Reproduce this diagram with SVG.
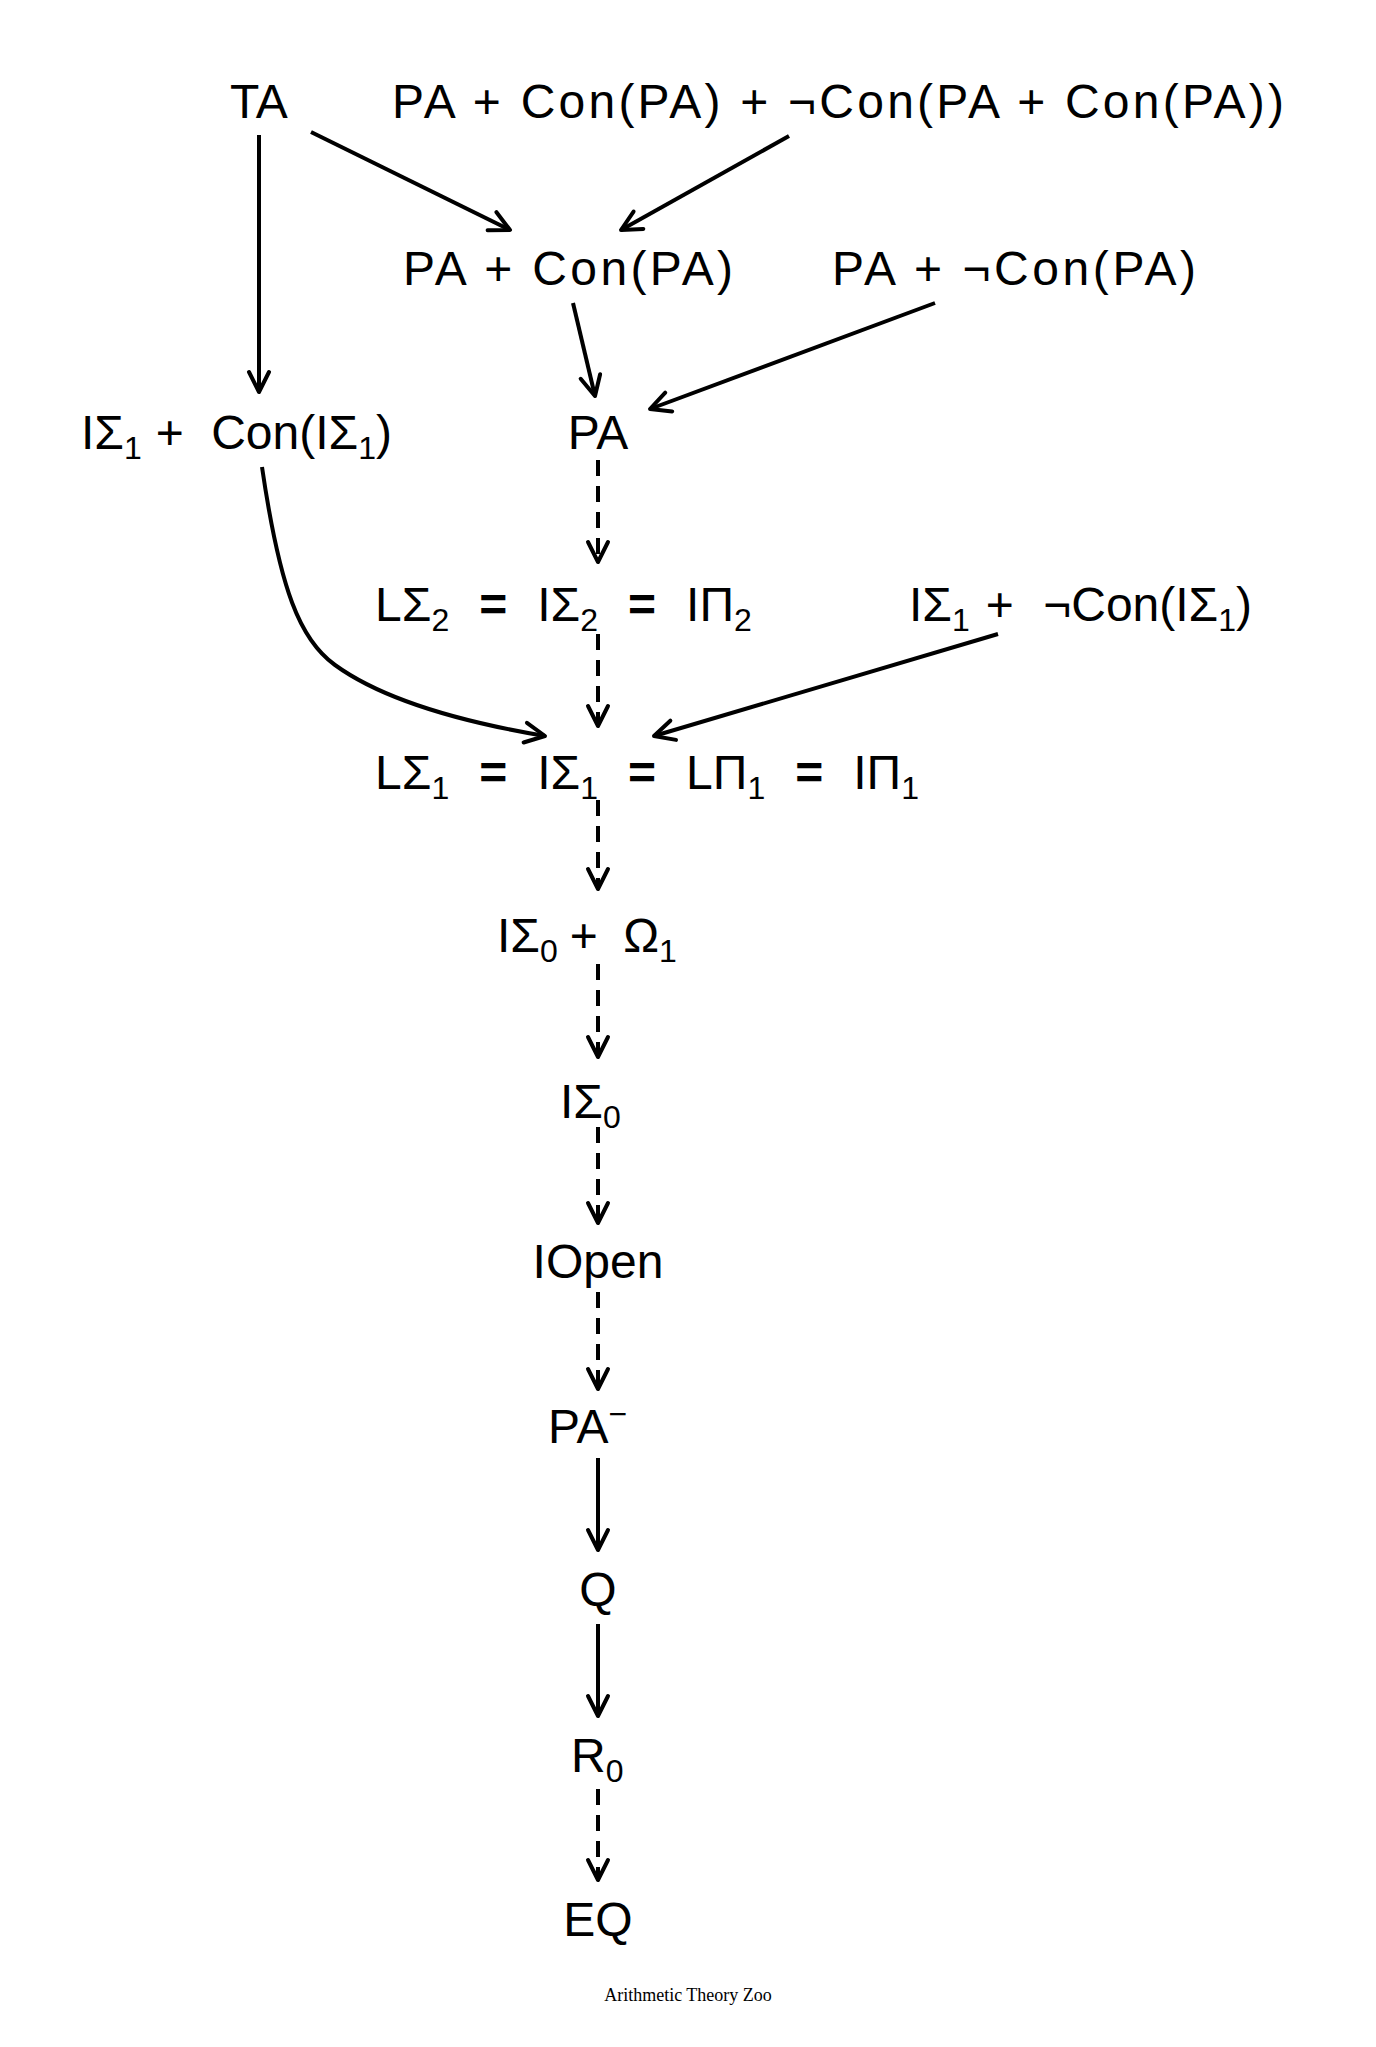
<svg xmlns="http://www.w3.org/2000/svg" width="1376" height="2047" viewBox="0 0 1376 2047">
<style>
text{font-family:"Liberation Sans","DejaVu Sans",sans-serif;font-size:48px;fill:#000}
.s{font-size:32px}
.b{font-weight:bold}
.cap{font-family:"Liberation Serif",serif;font-size:18px}
.e{fill:none;stroke:#000;stroke-width:4;marker-end:url(#a)}
.d{stroke-dasharray:16,10}
</style>
<defs><marker id="a" viewBox="0 0 26 26" refX="23" refY="13" markerWidth="26" markerHeight="26" markerUnits="userSpaceOnUse" orient="auto"><path d="M3,3 L23,13 L3,23" fill="none" stroke="#000" stroke-width="4" stroke-linecap="round" stroke-linejoin="round"/></marker></defs>
<g id="connectors">
<path class="e" d="M259,135 L259,392"/>
<path class="e" d="M311,132 L510,230"/>
<path class="e" d="M789,136 L621,230"/>
<path class="e" d="M573,303 L595,396"/>
<path class="e" d="M935,303 L650,409"/>
<path class="e d" d="M598,460 L598,562"/>
<path class="e" d="M262,467 C280,590 300,640 335,665 C390,705 480,725 545,736"/>
<path class="e d" d="M598,634 L598,726"/>
<path class="e" d="M998,634 L654,736"/>
<path class="e d" d="M598,800 L598,889"/>
<path class="e d" d="M598,964 L598,1057"/>
<path class="e d" d="M598,1127 L598,1223"/>
<path class="e d" d="M598,1292 L598,1389"/>
<path class="e" d="M598,1458 L598,1550"/>
<path class="e" d="M598,1624 L598,1716"/>
<path class="e d" d="M598,1789 L598,1880"/>
</g>
<g id="TA"><text x="259" y="118" text-anchor="middle">TA</text></g>
<g id="PAConNeg"><text x="392" y="118" textLength="892">PA + Con(PA) + ¬Con(PA + Con(PA))</text></g>
<g id="PACon"><text x="403" y="285" textLength="330">PA + Con(PA)</text></g>
<g id="PANegCon"><text x="832" y="285" textLength="364">PA + ¬Con(PA)</text></g>
<g id="ISigma1Con"><text x="81" y="449">IΣ<tspan class="s" dy="10">1</tspan><tspan dy="-10" dx="14">+</tspan><tspan dx="14"> Con(IΣ</tspan><tspan class="s" dy="10">1</tspan><tspan dy="-10">)</tspan></text></g>
<g id="PA"><text x="598" y="449" text-anchor="middle">PA</text></g>
<g id="LS2"><text x="375" y="621">LΣ<tspan class="s" dy="10">2</tspan><tspan class="b" dy="-10" dx="30">=</tspan><tspan dx="30">IΣ</tspan><tspan class="s" dy="10">2</tspan><tspan class="b" dy="-10" dx="30">=</tspan><tspan dx="30">IΠ</tspan><tspan class="s" dy="10">2</tspan></text></g>
<g id="ISigma1NegCon"><text x="909" y="621">IΣ<tspan class="s" dy="10">1</tspan><tspan dy="-10" dx="16">+</tspan><tspan dx="16"> ¬Con(IΣ</tspan><tspan class="s" dy="10">1</tspan><tspan dy="-10">)</tspan></text></g>
<g id="LS1"><text x="375" y="789">LΣ<tspan class="s" dy="10">1</tspan><tspan class="b" dy="-10" dx="30">=</tspan><tspan dx="30">IΣ</tspan><tspan class="s" dy="10">1</tspan><tspan class="b" dy="-10" dx="30">=</tspan><tspan dx="30">LΠ</tspan><tspan class="s" dy="10">1</tspan><tspan class="b" dy="-10" dx="30">=</tspan><tspan dx="30">IΠ</tspan><tspan class="s" dy="10">1</tspan></text></g>
<g id="ISigma0Omega"><text x="497" y="952">IΣ<tspan class="s" dy="10">0</tspan><tspan dy="-10" dx="12">+</tspan><tspan dx="12"> Ω</tspan><tspan class="s" dy="10">1</tspan></text></g>
<g id="ISigma0"><text x="560" y="1118">IΣ<tspan class="s" dy="10">0</tspan></text></g>
<g id="IOpen"><text x="598" y="1278" text-anchor="middle">IOpen</text></g>
<g id="PAminus"><text x="548" y="1443">PA<tspan class="s" dy="-18">−</tspan></text></g>
<g id="Q"><text x="598" y="1606" text-anchor="middle">Q</text></g>
<g id="R0"><text x="571" y="1772">R<tspan class="s" dy="10">0</tspan></text></g>
<g id="EQ"><text x="598" y="1936" text-anchor="middle">EQ</text></g>
<text class="cap" x="688" y="2001" text-anchor="middle">Arithmetic Theory Zoo</text>
</svg>
